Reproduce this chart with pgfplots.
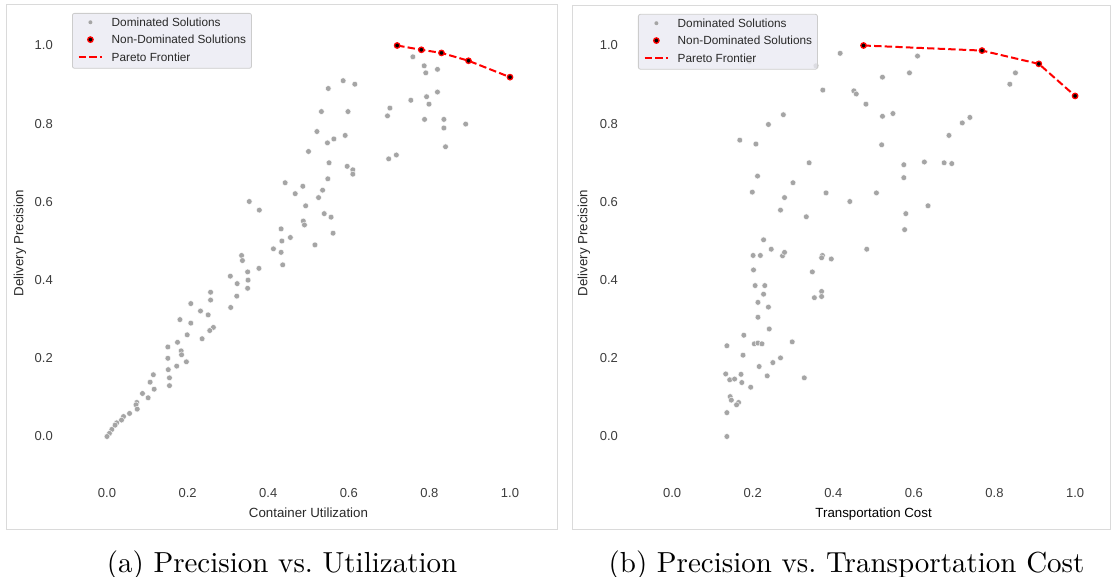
\documentclass[border=0pt]{standalone}
\usepackage{fontspec}
\usepackage{pgfplots}
\pgfplotsset{compat=1.18}
\newfontfamily\arial{Liberation Sans}
\newfontfamily\capfont{lmroman10-regular}[Extension=.otf]
\definecolor{dotgray}{RGB}{165,165,165}
\definecolor{ticktext}{RGB}{60,60,60}
\definecolor{labeltext}{RGB}{40,40,40}
\definecolor{legfill}{RGB}{234,234,242}
\definecolor{legedge}{RGB}{204,204,204}
\definecolor{framegray}{RGB}{218,218,218}
\definecolor{pred}{RGB}{255,0,0}

\pgfplotsset{
 panel/.style={
  scale only axis, width=483.6pt, height=469.2pt,
  xmin=-0.1,xmax=1.1,ymin=-0.1,ymax=1.1,
  axis line style={draw=none}, major tick length=0pt, tick style={draw=none},
  xtick={0,0.2,0.4,0.6,0.8,1}, ytick={0,0.2,0.4,0.6,0.8,1},
  xticklabels={0.0,0.2,0.4,0.6,0.8,1.0}, yticklabels={0.0,0.2,0.4,0.6,0.8,1.0},
  xticklabel style={font=\arial\fontsize{13}{15}\selectfont, text=ticktext, inner sep=0pt, anchor=north, yshift=-12.4pt},
  yticklabel style={font=\arial\fontsize{13}{15}\selectfont, text=ticktext, inner sep=0pt, anchor=east, xshift=-13.7pt},
  label style={font=\arial\fontsize{13.3}{16}\selectfont, text=labeltext, inner sep=0pt},
  xlabel style={at={(axis description cs:0.5,-0.0893)}, anchor=base},
  clip=false,
  legend cell align=left,
  legend style={anchor=north west, fill=legfill, fill opacity=0.8, draw opacity=1, text opacity=1,
    draw=legedge, line width=0.8pt, rounded corners=2pt, inner xsep=5.3pt, inner ysep=4.1pt,
    row sep=5.35pt, column sep=0pt,
    nodes={inner sep=0pt, text height=9pt, text depth=3pt, font=\arial\fontsize{11.8}{14}\selectfont, text=labeltext}},
 },
 gdot/.style={only marks, mark=*, mark size=2.9pt, mark options={fill=dotgray, draw=white, line width=0.4pt},
   legend image code/.code={\path[draw=none,fill=none] (0pt,-5pt) rectangle (33pt,5pt); \fill[dotgray, fill opacity=1, draw=none] (11.7pt,1.2pt) circle (2pt);}},
 ndot/.style={only marks, mark=*, mark size=2.7pt, mark options={fill=black, draw=pred, line width=1.3pt}},
 nlegend/.style={legend image code/.code={\path[draw=none,fill=none] (0pt,-5pt) rectangle (33pt,5pt); \filldraw[fill=black, draw=pred, line width=1.3pt, fill opacity=1, draw opacity=1] (11.7pt,1.2pt) circle (2.7pt);}},
 pline/.style={no marks, draw=pred, line width=2pt, dash pattern=on 7.4pt off 3.2pt,
   legend image code/.code={\path[draw=none,fill=none] (0pt,-5pt) rectangle (33pt,5pt); \draw[pred, line width=2pt, dash pattern=on 7.4pt off 3.2pt, draw opacity=1] (0pt,1.2pt) -- (23.4pt,1.2pt);}},
}

\pgfplotstableread{
x y
0.759 0.971
0.787 0.948
0.791 0.930
0.820 0.939
0.586 0.910
0.615 0.901
0.549 0.890
0.820 0.881
0.793 0.869
0.754 0.860
0.799 0.850
0.702 0.840
0.696 0.820
0.532 0.831
0.598 0.831
0.788 0.811
0.836 0.811
0.836 0.789
0.890 0.799
0.521 0.780
0.591 0.770
0.563 0.761
0.547 0.751
0.840 0.741
0.500 0.729
0.718 0.720
0.699 0.710
0.596 0.691
0.551 0.700
0.610 0.682
0.610 0.671
0.442 0.649
0.486 0.640
0.548 0.659
0.467 0.621
0.535 0.630
0.525 0.611
0.493 0.590
0.539 0.570
0.556 0.561
0.487 0.551
0.490 0.541
0.432 0.531
0.561 0.520
0.455 0.509
0.434 0.500
0.516 0.490
0.413 0.480
0.432 0.471
0.436 0.439
0.353 0.601
0.378 0.579
0.334 0.463
0.336 0.450
0.349 0.421
0.377 0.430
0.306 0.410
0.323 0.391
0.350 0.400
0.322 0.359
0.349 0.379
0.307 0.330
0.257 0.369
0.257 0.349
0.208 0.340
0.232 0.321
0.251 0.311
0.181 0.299
0.208 0.290
0.264 0.279
0.255 0.271
0.199 0.260
0.236 0.250
0.175 0.241
0.151 0.229
0.184 0.219
0.185 0.209
0.151 0.200
0.197 0.191
0.173 0.180
0.152 0.171
0.115 0.158
0.155 0.150
0.107 0.139
0.155 0.130
0.117 0.121
0.088 0.110
0.102 0.099
0.074 0.087
0.072 0.081
0.075 0.070
0.056 0.059
0.041 0.051
0.036 0.042
0.024 0.035
0.020 0.029
0.012 0.018
0.006 0.008
0.000 0.000
}\domA

\pgfplotstableread{
x y
0.72 1.000
0.78 0.989
0.83 0.981
0.897 0.961
1.00 0.919
}\parA

\pgfplotstableread{
x y
0.417 0.980
0.609 0.973
0.522 0.919
0.589 0.930
0.852 0.930
0.838 0.901
0.451 0.884
0.457 0.876
0.481 0.850
0.522 0.819
0.548 0.826
0.739 0.816
0.720 0.802
0.687 0.770
0.520 0.746
0.575 0.695
0.626 0.702
0.675 0.700
0.694 0.698
0.575 0.662
0.507 0.623
0.441 0.601
0.635 0.590
0.580 0.570
0.577 0.529
0.483 0.479
0.395 0.454
0.192 0.959
0.357 0.948
0.374 0.886
0.276 0.823
0.239 0.798
0.168 0.758
0.208 0.748
0.340 0.700
0.212 0.666
0.300 0.649
0.199 0.625
0.382 0.623
0.279 0.611
0.269 0.579
0.333 0.562
0.227 0.503
0.246 0.479
0.201 0.463
0.219 0.463
0.274 0.462
0.279 0.471
0.373 0.463
0.371 0.457
0.202 0.426
0.348 0.421
0.206 0.386
0.230 0.386
0.227 0.364
0.371 0.371
0.353 0.355
0.371 0.358
0.213 0.343
0.239 0.331
0.213 0.305
0.241 0.275
0.178 0.259
0.136 0.232
0.204 0.237
0.213 0.239
0.223 0.237
0.298 0.242
0.176 0.208
0.269 0.201
0.250 0.189
0.216 0.179
0.133 0.160
0.143 0.145
0.155 0.147
0.171 0.159
0.173 0.138
0.236 0.155
0.328 0.150
0.195 0.126
0.144 0.102
0.147 0.093
0.165 0.087
0.160 0.081
0.136 0.061
0.136 0.000
}\domB

\pgfplotstableread{
x y
0.475 1.000
0.769 0.987
0.910 0.953
1.000 0.871
}\parB

\begin{document}
\begin{tikzpicture}
\path[use as bounding box] (0pt,0pt) rectangle (1112pt,-577pt);
\draw[framegray, line width=0.8pt] (6pt,-4pt) rectangle (557pt,-529pt);
\draw[framegray, line width=0.8pt] (572pt,-5pt) rectangle (1110pt,-529pt);

\begin{axis}[panel, at={(66.7pt,-475.6pt)}, anchor=south west,
  xlabel={Container Utilization}, ylabel={Delivery Precision},
  ylabel style={at={(axis description cs:-0.0966,0.496)}, anchor=center},
  legend style={at={(axis description cs:0.011,0.986)}}]
\addplot[gdot] table {\domA};
\addlegendentry{Dominated Solutions}
\addlegendimage{nlegend}
\addlegendentry{Non-Dominated Solutions}
\addplot[pline] table {\parA};
\addlegendentry{Pareto Frontier}
\addplot[ndot, forget plot] table {\parA};
\end{axis}

\begin{axis}[panel, at={(631.8pt,-475.6pt)}, anchor=south west,
  xlabel={Transportation Cost}, ylabel={Delivery Precision},
  xlabel style={text=black},
  ylabel style={at={(axis description cs:-0.0988,0.496)}, anchor=center},
  legend style={at={(axis description cs:0.0128,0.984)}}]
\addplot[gdot] table {\domB};
\addlegendentry{Dominated Solutions}
\addlegendimage{nlegend}
\addlegendentry{Non-Dominated Solutions}
\addplot[pline] table {\parB};
\addlegendentry{Pareto Frontier}
\addplot[ndot, forget plot] table {\parB};
\end{axis}

\node[font=\capfont\fontsize{29}{34}\selectfont, anchor=base, inner sep=0pt] at (282pt,-572.5pt) {(a) Precision vs.\ Utilization};
\node[font=\capfont\fontsize{29}{34}\selectfont, anchor=base, inner sep=0pt] at (846.5pt,-572.5pt) {(b) Precision vs.\ Transportation Cost};
\end{tikzpicture}
\end{document}
